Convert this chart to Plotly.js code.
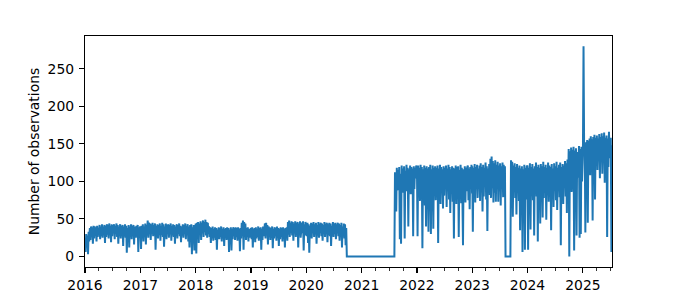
<!DOCTYPE html>
<html>
<head>
<meta charset="utf-8">
<script src="https://cdn.plot.ly/plotly-3.0.1.min.js"></script>
<style>html,body{margin:0;padding:0;background:#fff;}#chart{width:680px;height:300px;}</style>
</head>
<body>
<div id="chart"></div>
<script>
// Observations sampled every 4 days, one array per calendar year (each starts on 1 January)
var stepDays = 4;
var v2016 = [25,6,30,12,28,3,33,20, 38,22,40,27,39,17,41, 24,40,29,39,20,41,26,38, 28,42,23,40,27,43,25, 40,30,42,18,41,26,43,29, 42,24,44,30,41,19,43, 27,42,31,43,23,41,30,44, 26,42,17,40,29,43,24,41, 30,42,14,40,27,43,25, 41,5,38,26,42,12,40,28, 43,23,41,29,42,16,40,30, 25,41,28,42,6,39,27,40];
var v2017 = [36,10,41,26,43,20,40,29, 44,16,42,28,48,25,45, 33,44,22,43,30,45,27,42, 31,44,9,41,27,43,24, 42,30,44,21,41,29,45,26, 43,13,40,28,44,23,42, 30,43,25,42,31,44,21,41, 28,43,26,42,17,40,29,43, 24,42,30,44,27,41,19, 40,28,43,25,42,31,44,23, 41,29,43,20,40,12,42, 27,43,3,39,24,42,8,38];
var v2018 = [44,4,45,28,46,18,44,30, 47,22,45,31,48,26,46, 33,49,28,46,25,45,30,40, 26,39,18,38,24,40,21, 37,25,39,22,38,9,36,24, 39,23,38,26,40,20,37, 24,39,14,37,25,38,22,39, 25,38,6,36,21,39,8,37, 23,39,28,38,22,39,26, 38,21,39,25,37,7,38,24, 45,28,48,9,46,26,44, 22,38,26,39,20,37,25,38];
var v2019 = [38,23,39,12,37,25,38,19, 39,24,37,26,40,21,38, 25,39,9,37,22,40,27,38, 44,24,45,30,42,16,40, 26,39,22,38,28,40,11,37, 24,39,27,38,21,40,25, 38,14,37,23,39,26,38,20, 39,24,37,12,38,25,39,21, 46,29,48,26,45,31,47, 28,46,21,44,32,47,26,45, 33,46,12,44,30,47,25,44, 45,31,47,8,43,28,46,33];
var v2020 = [44,27,45,18,43,5,41,29, 45,24,44,31,46,26,43, 30,45,17,42,28,46,25,44, 32,45,27,44,21,42,30, 46,26,44,31,45,19,43,29, 45,27,44,14,41,28,46, 26,44,30,45,23,43,31,45, 27,44,21,42,29,45,12,40, 28,44,24,43,15,38,
  0,0,0,0,0, 0,0,0,0,0, 0,0,0,0,0, 0,0,0,0,0, 0,0,0,0];
var v2021 = [0,0,0,0,0, 0,0,0,0,0, 0,0,0,0,0, 0,0,0,0,0, 0,0,0,0,0, 0,0,0,0,0, 0,0,0,0,0, 0,0,0,0,0, 0,0,0,0,0, 0,0,0,0,0, 0,0,0,0,0,
  112,95,60,118,88,115,102,119,23,110,17,121,92,117,85,120,24,114,98,122,87,118,40,116,95,121,83,119,100,117,27,120,90,118,104,121];
var v2022 = [117,27,121,86,118,74,122,90, 119,11,116,80,121,68,118, 40,120,84,117,33,119,77,122, 30,116,88,121,37,118,82, 120,75,118,92,121,18,117,85, 122,70,119,87,116,64,120, 81,118,93,121,66,117,89,122, 76,119,58,116,90,120,73,118, 24,117,85,121,70,119,78, 120,26,115,89,122,71,118,83, 15,116,91,120,72,118,87,119, 121,75,117,63,119,90,122,84];
var v2023 = [120,33,118,86,123,72,119,91, 122,78,117,94,121,74,124, 88,119,60,122,80,118,95,125, 76,120,34,117,89,123,82, 130,78,133,91,127,72,124,85, 128,73,122,96,126,73,121, 87,124,68,120,93,125,79,122, 84,120,
  0,0,0,0,0, 0,0,0,0,
  128,87,126,53,121,95,124,78,119,56,123,90,118,74,121,35,117,85,120,6,116,80,122,9,118,76,120];
var v2024 = [121,9,118,83,124,36,119,87, 123,75,117,28,120,91,125, 80,119,20,122,86,118,44,123, 89,120,52,126,78,119,94, 122,49,118,85,125,73,121,90, 119,35,123,81,117,66,124, 88,120,75,126,62,118,93,122, 79,125,15,119,86,123,70,121, 97,127,80,124,58,129,90, 143,0,140,102,145,86,142,108, 146,8,141,95,144,28,139,110, 105,147,25,143,30,146,100];
var v2025 = [138,280,141,150,32,152,118,155, 45,154,126,157,108,160,132, 156,48,159,121,162,76,158,130, 161,115,157,138,163,104,159, 128,164,110,160,135,165,98,158, 140,161,26,157,119,166,131, 150,158,6,148];
var years = [2016, 2017, 2018, 2019, 2020, 2021, 2022, 2023, 2024, 2025];
var yearValues = [v2016, v2017, v2018, v2019, v2020, v2021, v2022, v2023, v2024, v2025];
var xStart = '2016-01-01';
var xEnd = '2025-07-12';
var yTicks = [0, 50, 100, 150, 200, 250];
var yTitle = 'Number of observations';

var dayMs = 86400000;
var xs = [], ys = [];
years.forEach(function (yr, j) {
  var t0 = Date.UTC(yr, 0, 1);
  yearValues[j].forEach(function (v, k) {
    xs.push(new Date(t0 + k * stepDays * dayMs).toISOString().slice(0, 10));
    ys.push(v);
  });
});

var font = {family: 'DejaVu Sans', size: 13.9, color: '#000'};
var axisCommon = {
  showline: true, linecolor: '#000', linewidth: 1.1, mirror: true,
  ticks: 'outside', ticklen: 5, tickwidth: 1.1, tickcolor: '#000',
  showgrid: false, zeroline: false, tickfont: font
};

var trace = {
  type: 'scatter', mode: 'lines',
  x: xs, y: ys,
  line: {color: '#1f77b4', width: 2},
  hoverinfo: 'skip'
};

var layout = {
  width: 680, height: 300,
  margin: {l: 85, r: 68, t: 36, b: 33, pad: 0},
  paper_bgcolor: '#fff', plot_bgcolor: '#fff',
  showlegend: false,
  xaxis: Object.assign({}, axisCommon, {
    type: 'date', range: [xStart, xEnd],
    dtick: 'M12', tick0: xStart, tickformat: '%Y',
    ticklabelstandoff: 0,
    minor: {ticks: 'outside', ticklen: 3, tickwidth: 0.8, tickcolor: '#000', dtick: 'M3', tick0: xStart, showgrid: false}
  }),
  yaxis: Object.assign({}, axisCommon, {
    range: [-14, 293.5], tickvals: yTicks, ticktext: yTicks.map(String),
    ticklabelstandoff: 2,
    title: {text: yTitle, font: font, standoff: 4}
  })
};

Plotly.newPlot('chart', [trace], layout, {displayModeBar: false, staticPlot: true});
</script>
</body>
</html>
